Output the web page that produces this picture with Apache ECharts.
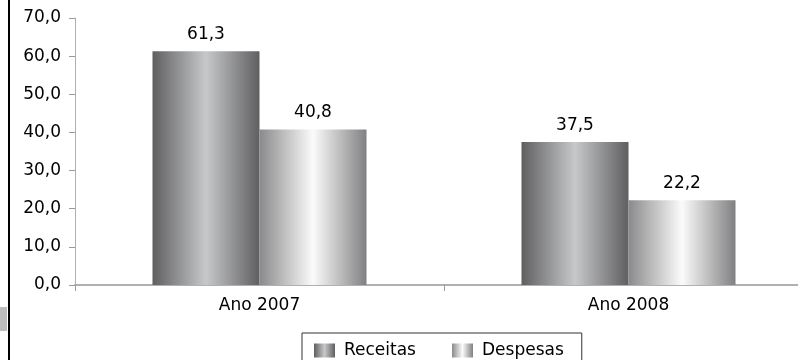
<!DOCTYPE html>
<html>
<head>
<meta charset="utf-8">
<script src="https://cdn.jsdelivr.net/npm/echarts@6/dist/echarts.min.js"></script>
<style>
  html, body { margin: 0; padding: 0; background: #fff; }
  #chart { width: 798px; height: 360px; }
</style>
</head>
<body>
<div id="chart"></div>
<script>
// Categories, series and axis ticks
const categories = ['Ano 2007', 'Ano 2008'];
const receitas = [61.3, 37.5];
const despesas = [40.8, 22.2];
const yMin = 0, yMax = 70, yStep = 10;

const fmt = v => v.toFixed(1).replace('.', ',');

// Metallic horizontal gradients for the bars
function metal(edgeL, mid, edgeR) {
  return new echarts.graphic.LinearGradient(0, 0, 1, 0, [
    { offset: 0, color: edgeL },
    { offset: 0.5, color: mid },
    { offset: 1, color: edgeR }
  ]);
}
const receitasFill = metal('#5f5f61', '#c7c8ca', '#5f5f61');
const despesasFill = metal('#8a8a8c', '#fbfbfb', '#808082');

const font = '"DejaVu Sans", sans-serif';
const fs = 17;

const chart = echarts.init(document.getElementById('chart'), null, { renderer: 'canvas' });
chart.setOption({
  animation: false,
  backgroundColor: '#ffffff',
  textStyle: { fontFamily: font },
  // plot area runs past the right edge of the canvas
  grid: { left: 75, width: 738, top: 18, height: 267, containLabel: false, outerBoundsMode: 'none' },
  graphic: [
    { type: 'rect', left: 8, top: 0, shape: { width: 2, height: 360 }, style: { fill: '#000' }, z: 10 },
    { type: 'rect', left: 0, top: 307, shape: { width: 7, height: 24 }, style: { fill: '#bdbdbd' }, z: 10 }
  ],
  legend: {
    left: 302, top: 333,
    icon: 'rect',
    itemWidth: 21, itemHeight: 14, itemGap: 36,
    padding: [9, 18, 10, 12],
    borderColor: '#333', borderWidth: 1,
    textStyle: { fontFamily: font, fontSize: fs, color: '#000', padding: [0, 0, 0, 4] },
    data: [
      { name: 'Receitas', itemStyle: { color: receitasFill } },
      { name: 'Despesas', itemStyle: { color: despesasFill } }
    ]
  },
  xAxis: {
    type: 'category',
    data: categories,
    axisLine: { lineStyle: { color: '#b0b0b0', width: 2 } },
    axisTick: { show: true, length: 6, lineStyle: { color: '#9a9a9a' } },
    axisLabel: { fontFamily: font, fontSize: fs, color: '#000', margin: 12 }
  },
  yAxis: {
    type: 'value',
    min: yMin, max: yMax, interval: yStep,
    axisLine: { show: true, lineStyle: { color: '#b0b0b0', width: 1 } },
    axisTick: { show: true, length: 6, lineStyle: { color: '#9a9a9a' } },
    splitLine: { show: false },
    axisLabel: { fontFamily: font, fontSize: fs, color: '#000', margin: 14, formatter: v => fmt(v) }
  },
  series: [
    {
      name: 'Receitas', type: 'bar', data: receitas,
      barGap: '0%', barCategoryGap: '42%',
      itemStyle: { color: receitasFill },
      label: { show: true, position: 'top', distance: 8, fontFamily: font, fontSize: fs, color: '#000', formatter: p => fmt(p.value) }
    },
    {
      name: 'Despesas', type: 'bar', data: despesas,
      barGap: '0%', barCategoryGap: '42%',
      itemStyle: { color: despesasFill },
      label: { show: true, position: 'top', distance: 8, fontFamily: font, fontSize: fs, color: '#000', formatter: p => fmt(p.value) }
    }
  ]
});
</script>
</body>
</html>
